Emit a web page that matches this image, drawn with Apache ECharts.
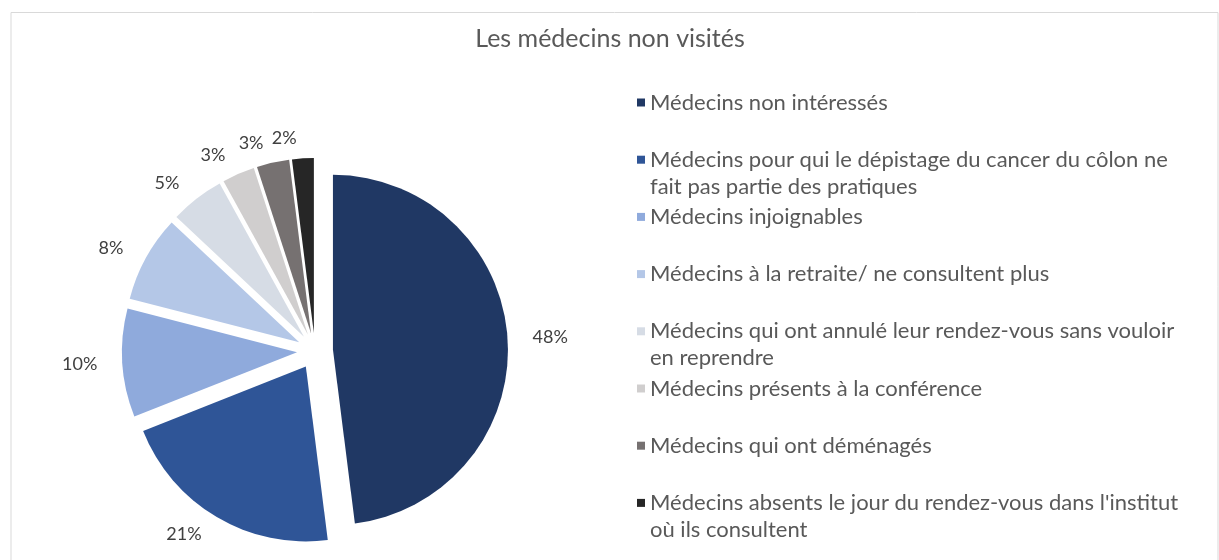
<!DOCTYPE html>
<html>
<head>
<meta charset="utf-8">
<script src="https://cdn.jsdelivr.net/npm/echarts@6/dist/echarts.min.js"></script>
<style>
    html, body { margin: 0; padding: 0; background: #fff; }
    #chart { width: 1219px; height: 560px; }
</style>
</head>
<body>
<div id="chart"></div>
<script>
var categories = [
    'Médecins non intéressés',
    'Médecins pour qui le dépistage du cancer du côlon ne fait pas partie des pratiques',
    'Médecins injoignables',
    'Médecins à la retraite/ ne consultent plus',
    "Médecins qui ont annulé leur rendez-vous sans vouloir en reprendre",
    'Médecins présents à la conférence',
    'Médecins qui ont déménagés',
    "Médecins absents le jour du rendez-vous dans l'institut où ils consultent"
];
var values = [48, 21, 10, 8, 5, 3, 3, 2];
var colors = ['#203864', '#2F5597', '#8FAADC', '#B4C7E7', '#D6DCE5', '#D0CECE', '#767171', '#262626'];
// nombre de mots sur la 1re ligne de la légende (0 = pas de retour à la ligne)
var legendWrap = [0, 10, 0, 0, 8, 0, 0, 8];

var chart = echarts.init(document.getElementById('chart'));

var lineH = 27;
var legends = categories.map(function (name, i) {
    var iconY = 102.5 + i * 57.2;
    var cut = legendWrap[i];
    return {
        orient: 'vertical',
        left: 637,
        top: iconY - (cut ? lineH * 1.5 : lineH / 2),
        padding: 0,
        itemWidth: 8,
        itemHeight: 8,
        icon: 'rect',
        selectedMode: false,
        data: [name],
        // ligne vide en tête : le carré reste aligné sur la 1re ligne
        formatter: function (n) {
            if (!cut) return n;
            var words = n.split(' ');
            return '\n' + words.slice(0, cut).join(' ') + '\n' + words.slice(cut).join(' ');
        },
        textStyle: {
            fontFamily: 'Lato',
            fontSize: 22,
            color: '#595959',
            lineHeight: lineH
        }
    };
});

var option = {
    animation: false,
    color: colors,
    title: {
        text: 'Les médecins non visités',
        left: 605,
        top: 21,
        textAlign: 'center',
        textStyle: {
            fontFamily: 'Lato',
            fontSize: 25,
            fontWeight: 'normal',
            color: '#595959'
        }
    },
    graphic: [{
        type: 'rect',
        shape: { x: 11, y: 12.5, width: 1207, height: 600 },
        style: { fill: 'none', stroke: '#d9d9d9', lineWidth: 1 },
        silent: true
    }],
    legend: legends,
    series: [{
        type: 'pie',
        center: [315, 351],
        radius: 175,
        startAngle: 90,
        clockwise: true,
        selectedMode: 'multiple',
        selectedOffset: 18,
        avoidLabelOverlap: false,
        emphasis: { disabled: true },
        label: {
            show: true,
            position: 'outside',
            formatter: '{d}%',
            fontFamily: 'Lato',
            fontSize: 18,
            color: '#404040'
        },
        labelLine: { show: false, length: 20, length2: 0 },
        data: categories.map(function (name, i) {
            return { name: name, value: values[i], selected: true };
        })
    }]
};

chart.setOption(option);
</script>
</body>
</html>
